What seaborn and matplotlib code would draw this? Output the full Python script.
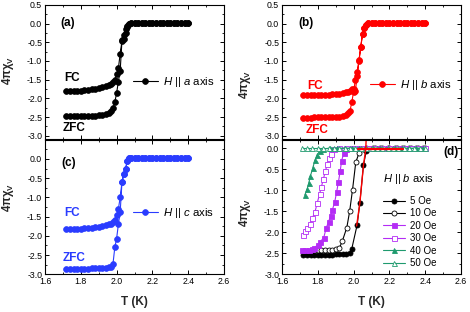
import matplotlib
matplotlib.use("Agg")
import matplotlib.pyplot as plt
from matplotlib.ticker import MultipleLocator, FormatStrFormatter
import seaborn as sns

# shared temperature grid (K) of the ZFC / FC sweeps in panels (a)-(c)
temp = [1.72, 1.74, 1.76, 1.78, 1.80, 1.82, 1.84, 1.86, 1.88, 1.90, 1.92, 1.94, 1.96,
        1.97, 1.98, 1.99, 2.00, 2.01, 2.02, 2.03, 2.04, 2.05, 2.06, 2.07, 2.08,
        2.10, 2.12, 2.14, 2.16, 2.18, 2.20, 2.22, 2.24, 2.26, 2.28, 2.30, 2.32, 2.34, 2.36, 2.38, 2.40]

a_zfc = [-2.47, -2.47, -2.47, -2.47, -2.47, -2.47, -2.47, -2.46, -2.46, -2.45, -2.44, -2.42, -2.38,
         -2.34, -2.27, -2.10, -1.86, -1.55, -1.26, -0.45, -0.30, -0.15, -0.06, 0.00, 0.01,
         0.01, 0.01, 0.01, 0.01, 0.01, 0.01, 0.01, 0.01, 0.01, 0.01, 0.01, 0.01, 0.01, 0.01, 0.01, 0.01]
a_fc = [-1.80, -1.80, -1.80, -1.79, -1.79, -1.78, -1.77, -1.76, -1.74, -1.72, -1.70, -1.68, -1.65,
        -1.62, -1.57, -1.50, -1.35, -1.20, -0.80, -0.47, -0.40, -0.25, -0.10, 0.00, 0.01,
        0.01, 0.01, 0.01, 0.01, 0.01, 0.01, 0.01, 0.01, 0.01, 0.01, 0.01, 0.01, 0.01, 0.01, 0.01, 0.01]

b_zfc = [-2.52, -2.52, -2.52, -2.51, -2.51, -2.51, -2.51, -2.51, -2.50, -2.50, -2.49, -2.47, -2.44,
         -2.40, -2.33, -2.10, -1.82, -1.50, -1.30, -0.98, -0.62, -0.27, -0.13, -0.04, 0.01,
         0.01, 0.01, 0.01, 0.01, 0.01, 0.01, 0.01, 0.01, 0.01, 0.01, 0.01, 0.01, 0.01, 0.01, 0.01, 0.01]
b_fc = [-1.91, -1.91, -1.91, -1.91, -1.91, -1.90, -1.90, -1.90, -1.89, -1.88, -1.87, -1.85, -1.84,
        -1.82, -1.79, -1.76, -1.75, -1.80, -1.40, -1.00, -0.62, -0.28, -0.13, -0.04, 0.01,
        0.01, 0.01, 0.01, 0.01, 0.01, 0.01, 0.01, 0.01, 0.01, 0.01, 0.01, 0.01, 0.01, 0.01, 0.01, 0.01]

c_zfc = [-2.85, -2.85, -2.85, -2.85, -2.85, -2.85, -2.85, -2.84, -2.84, -2.84, -2.84, -2.83, -2.82,
         -2.80, -2.72, -2.30, -2.07, -1.70, -1.38, -0.60, -0.40, -0.26, -0.05, 0.02, 0.02,
         0.02, 0.02, 0.02, 0.02, 0.02, 0.02, 0.02, 0.02, 0.02, 0.02, 0.02, 0.02, 0.02, 0.02, 0.02, 0.02]
c_fc = [-1.82, -1.82, -1.82, -1.81, -1.81, -1.80, -1.80, -1.79, -1.78, -1.77, -1.75, -1.73, -1.70,
        -1.68, -1.64, -1.60, -1.45, -1.30, -1.00, -0.60, -0.40, -0.26, -0.05, 0.02, 0.02,
        0.02, 0.02, 0.02, 0.02, 0.02, 0.02, 0.02, 0.02, 0.02, 0.02, 0.02, 0.02, 0.02, 0.02, 0.02, 0.02]

# panel (d): H || b axis, ZFC at several fields
t_5 = [1.72, 1.74, 1.76, 1.78, 1.80, 1.82, 1.84, 1.86, 1.88, 1.90, 1.92, 1.94, 1.96,
       1.98, 1.99, 2.02, 2.035, 2.055, 2.07, 2.08,
       2.12, 2.16, 2.20, 2.24, 2.28, 2.32, 2.36, 2.40]
v_5 = [-2.53, -2.53, -2.53, -2.53, -2.53, -2.53, -2.53, -2.53, -2.53, -2.52, -2.52, -2.52, -2.51,
       -2.49, -2.39, -1.82, -1.30, -0.41, -0.08, -0.02,
       0.0, 0.0, 0.0, 0.0, 0.0, 0.0, 0.0, 0.0]
t_10 = [1.78, 1.80, 1.82, 1.84, 1.86, 1.88, 1.90, 1.92, 1.937, 1.962, 1.978, 1.994, 2.012, 2.03, 2.05,
        2.07, 2.11, 2.15, 2.19, 2.23, 2.27, 2.31, 2.35, 2.39]
v_10 = [-2.43, -2.43, -2.43, -2.43, -2.43, -2.42, -2.41, -2.38, -2.21, -1.89, -1.50, -0.99, -0.34, -0.12, -0.03,
        0.0, 0.0, 0.0, 0.0, 0.0, 0.0, 0.0, 0.0, 0.0]
t_20 = [1.71, 1.73, 1.75, 1.765, 1.78, 1.80, 1.815, 1.833, 1.847, 1.86, 1.871, 1.882, 1.894, 1.905,
        1.915, 1.925, 1.933, 1.946, 1.96, 1.99, 2.03, 2.07, 2.11, 2.15, 2.19, 2.23, 2.27, 2.31, 2.35, 2.39]
v_20 = [-2.43, -2.43, -2.42, -2.40, -2.37, -2.30, -2.22, -2.13, -1.90, -1.75, -1.62, -1.46, -1.29, -1.05,
        -0.81, -0.55, -0.30, -0.11, -0.03, 0.0, 0.0, 0.0, 0.0, 0.0, 0.0, 0.0, 0.0, 0.0, 0.0, 0.0]
t_30 = [1.72, 1.731, 1.742, 1.754, 1.769, 1.784, 1.797, 1.81, 1.82, 1.831, 1.842, 1.853, 1.862, 1.872,
        1.89, 1.92, 1.96, 2.00, 2.04, 2.08, 2.12, 2.16, 2.20, 2.24, 2.28, 2.32, 2.36, 2.40]
v_30 = [-2.06, -1.97, -1.90, -1.81, -1.67, -1.52, -1.30, -1.09, -0.92, -0.74, -0.55, -0.38, -0.24, -0.13,
        -0.03, 0.0, 0.0, 0.0, 0.0, 0.0, 0.0, 0.0, 0.0, 0.0, 0.0, 0.0, 0.0, 0.0]
t_40 = [1.728, 1.741, 1.75, 1.759, 1.772, 1.784, 1.797, 1.81, 1.83, 1.87, 1.91, 1.95, 1.99, 2.03,
        2.07, 2.11, 2.15, 2.19, 2.23, 2.27, 2.31, 2.35, 2.39]
v_40 = [-1.11, -0.97, -0.82, -0.66, -0.47, -0.29, -0.16, -0.07, -0.02, 0.0, 0.0, 0.0, 0.0, 0.0,
        0.0, 0.0, 0.0, 0.0, 0.0, 0.0, 0.0, 0.0, 0.0]
t_50 = [1.71, 1.74, 1.77, 1.80, 1.83, 1.86, 1.89, 1.92, 1.95, 1.98, 2.01, 2.04, 2.07, 2.10, 2.13,
        2.16, 2.19, 2.22, 2.25, 2.28, 2.31, 2.34, 2.37, 2.40]
v_50 = [0.0, 0.0, 0.0, 0.0, 0.0, 0.0, 0.0, 0.0, 0.0, 0.0, 0.0, 0.0, 0.0, 0.0, 0.0,
        0.0, 0.0, 0.0, 0.0, 0.0, 0.0, 0.0, 0.0, 0.0]
field_labels = ["5 Oe", "10 Oe", "20 Oe", "30 Oe", "40 Oe", "50 Oe"]

# stray red trace that shows up over panel (d) in the original
red_t = [2.017, 2.035, 2.055, 2.068, 2.07]
red_v = [-1.85, -1.30, -0.41, -0.02, 0.2]
red_h_t = [2.022, 2.275]
red_h_v = [-0.02, -0.02]

BLACK, RED, BLUE = "black", "#ff0000", "#2a3cff"
VIOLET, GREEN = "#b42cf5", "#1f9a6e"

sns.set_theme(style="ticks")
plt.rcParams["font.family"] = ["Liberation Sans", "DejaVu Sans"]
plt.rcParams.update({
    "mathtext.fontset": "custom",
    "mathtext.rm": "Liberation Sans",
    "mathtext.it": "Liberation Sans:italic",
    "mathtext.bf": "Liberation Sans:bold",
    "axes.unicode_minus": False,
    "axes.edgecolor": "black",
    "axes.linewidth": 0.8,
    "text.color": "black",
    "xtick.color": "black", "ytick.color": "black",
    "xtick.labelsize": 6.3, "ytick.labelsize": 6.3,
    "xtick.major.size": 3, "ytick.major.size": 3,
    "xtick.minor.size": 1.6, "ytick.minor.size": 1.6,
    "xtick.major.width": 0.7, "ytick.major.width": 0.7,
    "xtick.minor.width": 0.6, "ytick.minor.width": 0.6,
    "xtick.major.pad": 2, "ytick.major.pad": 2,
})

fig = plt.figure(figsize=(4.7, 3.12), dpi=100)
W, H = 179 / 470, 134.6 / 312
ax_a = fig.add_axes([45 / 470, 0.5529, W, H])
ax_b = fig.add_axes([282 / 470, 0.5529, W, H])
ax_c = fig.add_axes([45 / 470, 0.1208, W, H])
ax_d = fig.add_axes([282 / 470, 0.1208, W, H])


def style(ax, ylim, bottom_row, letter, letter_pos, ylab_y):
    ax.set_xlim(1.6, 2.6)
    ax.xaxis.set_major_locator(MultipleLocator(0.2))
    ax.xaxis.set_minor_locator(MultipleLocator(0.1))
    top_tick = 2 if not bottom_row else 1
    ax.set_yticks([v / 2 for v in range(-6, top_tick)])
    ax.set_ylim(*ylim)
    ax.yaxis.set_minor_locator(MultipleLocator(0.25))
    ax.xaxis.set_major_formatter(FormatStrFormatter("%.1f"))
    ax.yaxis.set_major_formatter(FormatStrFormatter("%.1f"))
    ax.tick_params(which="both", direction="in", top=True, right=True, labelbottom=bottom_row)
    ax.set_ylabel("4πχ$_{\\mathbf{V}}$", fontsize=8.3, fontweight="bold")
    ax.yaxis.set_label_coords(-0.16, ylab_y)
    if bottom_row:
        ax.set_xlabel("T (K)", fontsize=8.5, fontweight="bold")
        ax.xaxis.set_label_coords(0.5, -0.16)
    else:
        ax.set_xlabel("")
    ha = "right" if letter == "(d)" else "left"
    ax.text(*letter_pos, letter, transform=ax.transAxes, ha=ha, va="center",
            fontsize=8.5, fontweight="bold")


def fc_zfc(ax, zfc, fc, color, label, leg_pos, fc_pos, zfc_pos):
    # ZFC warming followed by FC cooling, drawn as one connected trace
    x = temp + temp[::-1]
    y = zfc + fc[::-1]
    sns.lineplot(x=x, y=y, sort=False, estimator=None, errorbar=None, ax=ax, color=color,
                 marker="o", markersize=4.2, markeredgecolor=color, markeredgewidth=0.5,
                 linewidth=0.8, label=label)
    ax.legend(loc="center left", bbox_to_anchor=leg_pos, frameon=False, fontsize=8.2,
              handlelength=2.2, handletextpad=0.5, borderpad=0, borderaxespad=0)
    ax.text(*fc_pos, "FC", color=color, fontsize=8.5, fontweight="bold", va="center")
    ax.text(*zfc_pos, "ZFC", color=color, fontsize=8.5, fontweight="bold", va="center")


style(ax_a, (-3.1, 0.5), False, "(a)", (0.085, 0.865), 0.51)
style(ax_b, (-3.1, 0.5), False, "(b)", (0.09, 0.865), 0.41)
style(ax_c, (-3.0, 0.5), True, "(c)", (0.09, 0.83), 0.57)
style(ax_d, (-3.0, 0.2), True, "(d)", (0.985, 0.905), 0.46)

fc_zfc(ax_a, a_zfc, a_fc, BLACK, "$H$ || $a$ axis", (0.49, 0.43), (1.71, -1.45), (1.70, -2.80))
fc_zfc(ax_b, b_zfc, b_fc, RED, "$H$ || $b$ axis", (0.49, 0.405), (1.74, -1.68), (1.73, -2.84))
fc_zfc(ax_c, c_zfc, c_fc, BLUE, "$H$ || $c$ axis", (0.49, 0.453), (1.71, -1.41), (1.70, -2.58))

series_d = [
    (t_5, v_5, BLACK, "o", BLACK),
    (t_10, v_10, BLACK, "o", "white"),
    (t_20, v_20, VIOLET, "s", VIOLET),
    (t_30, v_30, VIOLET, "s", "white"),
    (t_40, v_40, GREEN, "^", GREEN),
    (t_50, v_50, GREEN, "^", "white"),
]
handles = []
for (t, v, col, mk, face), lab in zip(series_d, field_labels):
    sns.lineplot(x=t, y=v, sort=False, estimator=None, errorbar=None, ax=ax_d, color=col,
                 marker=mk, markersize=3.6, markerfacecolor=face, markeredgecolor=col,
                 markeredgewidth=0.6, linewidth=0.8, label=lab)
    handles.append(ax_d.get_lines()[-1])
sns.lineplot(x=red_t, y=red_v, sort=False, estimator=None, errorbar=None, ax=ax_d,
             color=RED, linewidth=1.0)
sns.lineplot(x=red_h_t, y=red_h_v, sort=False, estimator=None, errorbar=None, ax=ax_d,
             color=RED, linewidth=1.6)
ax_d.legend(handles=handles, labels=field_labels, loc="center left", bbox_to_anchor=(0.564, 0.314),
            frameon=False, fontsize=7, handlelength=2.3, handletextpad=0.5, labelspacing=0.25,
            borderpad=0, borderaxespad=0)
ax_d.text(2.164, -0.73, "$H$ || $b$ axis", fontsize=8, va="center")
for ax in (ax_a, ax_b):
    ax.set_xlabel("")

fig.savefig("out.png", dpi=100)
